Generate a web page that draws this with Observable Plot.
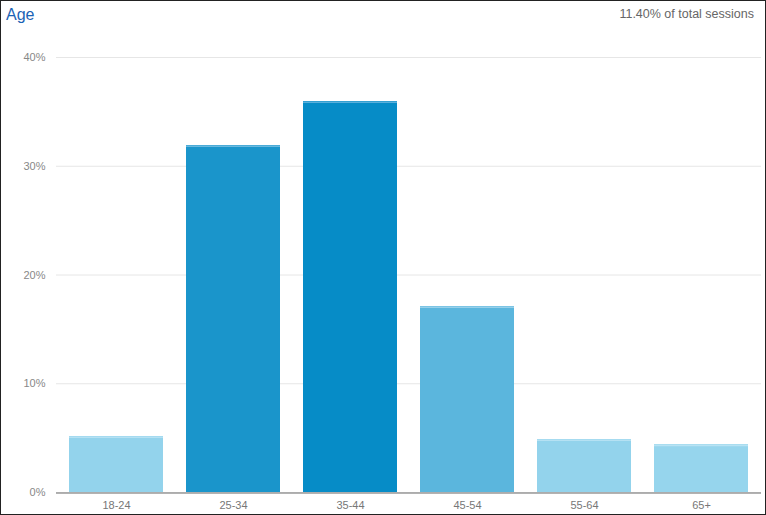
<!DOCTYPE html>
<html>
<head>
<meta charset="utf-8">
<script src="https://cdn.jsdelivr.net/npm/d3@7"></script>
<script src="https://cdn.jsdelivr.net/npm/@observablehq/plot@0.6"></script>
<style>
  html, body { margin: 0; padding: 0; background: #fff; }
  #frame { position: relative; width: 766px; height: 515px; box-sizing: border-box; border: 1px solid #222; overflow: hidden; font-family: "Liberation Sans", Arial, sans-serif; }
  #title { position: absolute; left: 5px; top: 5px; font-size: 16px; color: #1b63b5; }
  #sub { position: absolute; right: 11px; top: 6px; font-size: 12.5px; color: #666; }
  #chart { position: absolute; left: 0; top: 0; }
</style>
</head>
<body>
<div id="frame">
  <div id="chart"></div>
  <div id="title">Age</div>
  <div id="sub">11.40% of total sessions</div>
</div>
<script>
const ageGroups = ["18-24", "25-34", "35-44", "45-54", "55-64", "65+"];
const sessionShare = [5.15, 31.9, 35.95, 17.1, 4.87, 4.4];
const yTicks = [0, 10, 20, 30, 40];

const data = ageGroups.map((a, i) => ({age: a, share: sessionShare[i]}));

const fills = ["#93d3ec", "#1a95cb", "#068cc7", "#5bb6dd", "#93d3ec", "#96d5ed"];
const tops = ["#b5e1f3", "#6ab9df", "#5ab0dc", "#97d0ea", "#b5e1f3", "#b8e3f4"];

const plot = Plot.plot({
  width: 764,
  height: 513,
  marginLeft: 55,
  marginRight: 4,
  marginTop: 56,
  marginBottom: 22,
  style: {fontFamily: "'Liberation Sans', Arial, sans-serif", fontSize: "11px", color: "#888", background: "transparent"},
  x: {domain: ageGroups, paddingInner: 0.2, paddingOuter: 0.1, label: null, tickSize: 0, tickPadding: 9},
  y: {domain: [0, 40], ticks: yTicks, label: null, tickSize: 0, tickPadding: 11, tickFormat: d => d + "%"},
  color: {domain: ageGroups, range: fills},
  marks: [
    Plot.gridY(yTicks, {stroke: "#e6e6e6", strokeOpacity: 1}),
    Plot.barY(data, {x: "age", y: "share", fill: "age"}),
    Plot.tickY(data, {x: "age", y: "share", stroke: (d, i) => tops[i], strokeWidth: 1.5, dy: 0.75}),
    Plot.ruleY([0], {stroke: "#999", strokeWidth: 1.5, dy: 0.5}),
    Plot.axisX({tickSize: 0, tickPadding: 9, fill: "#777"}),
    Plot.axisY({ticks: yTicks, tickSize: 0, tickPadding: 11, tickFormat: d => d + "%", fill: "#888"})
  ]
});
document.getElementById("chart").appendChild(plot);
</script>
</body>
</html>
